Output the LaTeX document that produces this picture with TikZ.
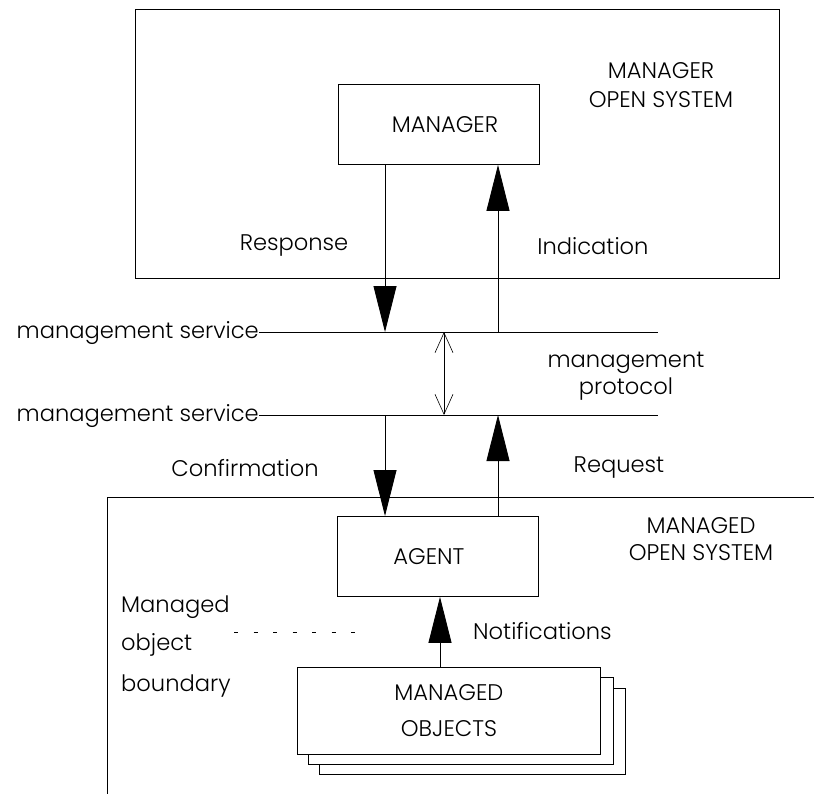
\documentclass[tikz,border=0pt]{standalone}
\usepackage{fontspec}
\setmainfont{Poppins Light}
\usetikzlibrary{arrows.meta}
\newcommand{\txtfont}{\fontsize{22.6}{27}\selectfont}
\begin{document}
\begin{tikzpicture}[x=1pt,y=-1pt,
  box/.style={draw, line width=0.9pt, fill=white, inner sep=0pt, anchor=north west, font=\txtfont},
  lbl/.style={font=\txtfont, inner sep=0pt, align=center},
  flow/.style={line width=0.9pt, -{Triangle[length=46pt,width=23pt]}},
  proto/.style={line width=0.6pt, {Straight Barb[length=20pt,width=18pt]}-{Straight Barb[length=20pt,width=18pt]}},
  thin/.style={line width=0.9pt}]
\useasboundingbox (0,0) rectangle (814,793);

% manager open system
\node[box, minimum width=644pt, minimum height=269pt] (mos) at (135,9) {};
\node[box, minimum width=201pt, minimum height=80pt] (mgr) at (338,84) {\hspace*{12pt}MANAGER};
\node[lbl] (mostxt) at (661,85) {MANAGER\\[2pt]OPEN SYSTEM};

% service boundaries
\node[lbl, anchor=base east] (svc1) at (259,338) {management service};
\node[lbl, anchor=base east] (svc2) at (259,421) {management service};
\coordinate (s1L) at (259,332); \coordinate (s1R) at (658,332);
\coordinate (s2L) at (259,415); \coordinate (s2R) at (658,415);
\draw[thin] (s1L) -- (s1R);
\draw[thin] (s2L) -- (s2R);

% columns of the primitives
\coordinate (xdown) at (385,0);
\coordinate (xup) at (498,0);
\coordinate (xproto) at (444,0);

\draw[flow] (mgr.south -| xdown) -- (s1L -| xdown);
\draw[flow] (s1L -| xup) -- (mgr.south -| xup);
\node[lbl] (resp) at (294,246) {Response};
\node[lbl] (ind) at (593,246) {Indication};

\draw[proto] (s1L -| xproto) -- (s2L -| xproto);
\node[lbl] (prot) at (626,376) {management\\protocol};

% managed open system
\coordinate (aosTL) at (107,497);
\coordinate (aosR) at (814,497);
\coordinate (aosB) at (107,795);
\draw[thin] (aosR) -- (aosTL) -- (aosB);
\node[lbl] (aostxt) at (701,539) {MANAGED\\OPEN SYSTEM};

\node[box, minimum width=201pt, minimum height=80pt] (agent) at (337,516) {AGENT\hspace*{18pt}};
\draw[flow] (s2L -| xdown) -- (agent.north -| xdown);
\draw[flow] (agent.north -| xup) -- (s2L -| xup);
\node[lbl] (conf) at (245,468) {Confirmation};
\node[lbl] (req) at (619,468) {Request};

% stack of managed objects
\node[box, minimum width=306pt, minimum height=86pt] (mo3) at (319,688) {};
\node[box, minimum width=305pt, minimum height=87pt] (mo2) at (308,677) {};
\node[box, minimum width=303pt, minimum height=87pt, align=center] (mo1) at (297,667) {MANAGED\\[9pt]OBJECTS};

\coordinate (xnot) at (440,0);
\draw[flow] (mo1.north -| xnot) -- (agent.south -| xnot);
\node[lbl, anchor=west] (notif) at (473,631) {Notifications};

\node[lbl, anchor=west] (mob1) at (121,607) {Managed};
\node[lbl, anchor=west] (mob2) at (121,645) {object};
\node[lbl, anchor=west] (mob3) at (121,686) {boundary};
\coordinate (dotL) at (234,632);
\coordinate (dotR) at (358,632);
\draw[line width=0.7pt, dash pattern=on 4pt off 15.5pt] (dotL) -- (dotR);
\end{tikzpicture}
\end{document}
